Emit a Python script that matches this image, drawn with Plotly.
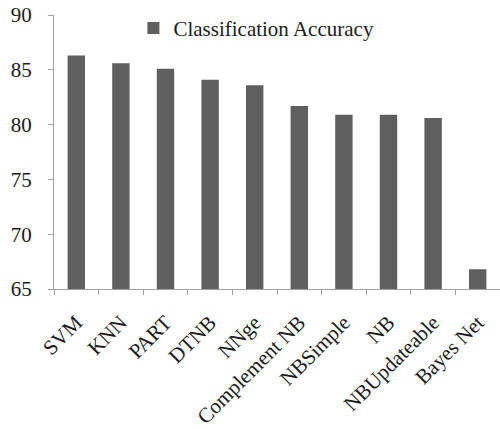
import plotly.graph_objects as go

categories = ["SVM", "KNN", "PART", "DTNB", "NNge", "Complement NB",
              "NBSimple", "NB", "NBUpdateable", "Bayes Net"]
accuracy = [86.3, 85.6, 85.1, 84.1, 83.6, 81.7, 80.9, 80.9, 80.6, 66.8]
y_ticks = [65, 70, 75, 80, 85, 90]
series_name = "Classification Accuracy"

fig = go.Figure()
fig.add_trace(go.Bar(
    x=categories, y=accuracy, name=series_name,
    marker=dict(color="#5f5f5f", line=dict(width=0)),
    showlegend=True,
))

font_family = "Liberation Serif, Times New Roman, serif"
fig.update_layout(
    width=500, height=429,
    margin=dict(l=54, r=0, t=15, b=140),
    paper_bgcolor="white", plot_bgcolor="white",
    font=dict(family=font_family, size=21, color="#1a1a1a"),
    bargap=0.61,
    showlegend=True,
    legend=dict(x=0.178, y=1.026, xanchor="left", yanchor="top",
                bgcolor="rgba(0,0,0,0)", font=dict(size=21),
                itemwidth=30),
)
fig.update_xaxes(
    showline=True, linecolor="#a0a0a0", linewidth=1,
    ticks="outside", ticklen=5, tickcolor="#a0a0a0",
    tickson="boundaries", tickangle=-45, showgrid=False,
    tickfont=dict(size=21), automargin=False, ticklabelstandoff=12,
)
fig.update_yaxes(
    range=[65, 90], tickvals=y_ticks,
    showline=True, linecolor="#a0a0a0", linewidth=1,
    ticks="outside", ticklen=5, tickcolor="#a0a0a0",
    showgrid=False, zeroline=False, tickfont=dict(size=21),
    ticklabelstandoff=12, automargin=False,
)
fig.write_html("out.html",
               config={"displayModeBar": False},
               post_script="document.body.style.margin='0';")
